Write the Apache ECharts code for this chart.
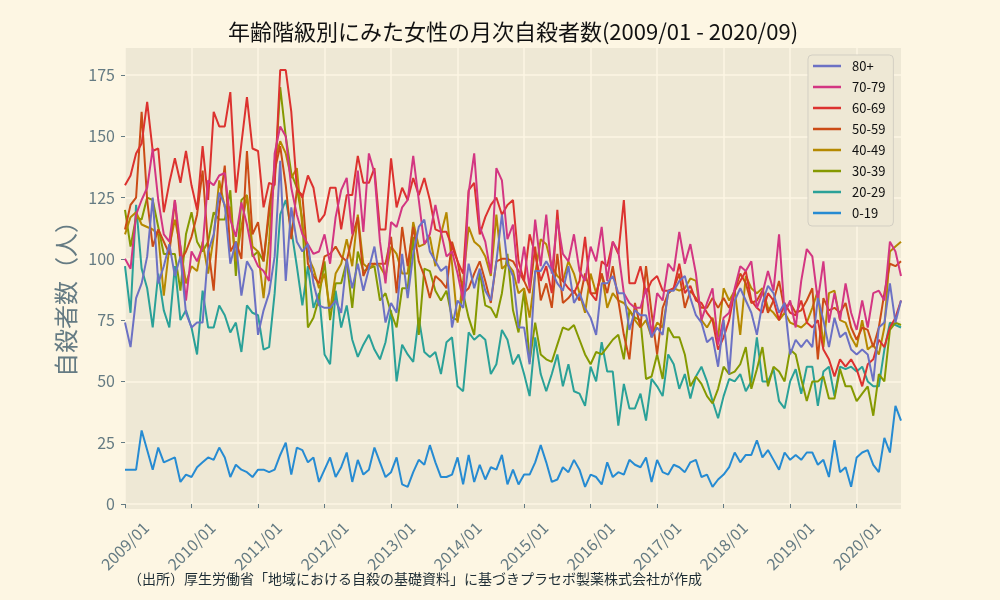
<!DOCTYPE html>
<html><head><meta charset="utf-8">
<script src="https://cdn.jsdelivr.net/npm/echarts@6/dist/echarts.min.js"></script>
<style>html,body{margin:0;padding:0;background:#fdf6e3;} #c{width:1000px;height:600px;}</style>
</head><body><div id="c"></div>
<script>
// ---- data ----
const startYear = 2009;
const monthCount = 141; // 2009/01 .. 2020/09
const yTickValues = [0, 25, 50, 75, 100, 125, 150, 175];
const ageGroups = ['0-19', '20-29', '30-39', '40-49', '50-59', '60-69', '70-79', '80+'];

const s0_19 = [14,14,14,30,22,14,23,17,18,19, 9,12,11,15,17,19,18,23,19,11,
  16,14,13,11,14,14,13,14,20,25, 12,23,22,17,19,9,14,19,11,15,
  21,9,18,12,14,23,17,11,13,19, 8,7,13,18,16,24,17,11,11,12,
  19,8,20,9,16,10,15,14,20,8, 14,8,12,12,17,24,17,9,10,15,
  13,18,14,7,12,11,8,17,11,13, 12,18,16,15,19,9,18,13,12,16,
  15,13,17,18,11,12,7,10,12,15, 21,17,20,20,26,19,22,18,14,21,
  18,20,18,21,21,16,18,11,26,13, 15,7,19,21,22,16,13,27,21,40, 34];
const s20_29 = [97,78,122,96,88,72,94,79,72,97, 75,79,72,61,87,72,72,81,77,70,
  74,62,81,78,77,63,64,86,118,124, 112,97,81,97,80,86,
  61,57,87,72,81,67,60,65,69,63, 59,66,79,50,65,61,58,76,62,60,
  62,53,66,68,48,46,70,67,69,67, 53,57,71,67,
  57,61,53,44,68,53,46,53,61,48, 57,46,45,40,56,50,66,54,54,32,
  49,39,39,45,34,51,48,44,61,57, 47,53,43,52,
  56,50,42,35,44,51,50,53,46,50, 68,50,50,55,42,39,50,55,45,56,
  56,40,54,56,44,56,55,56,54,56, 50,48,48,63,74,73,72];
const s30_39 = [120,105,117,116,125,124,113,102,102,102, 87,110,119,107,103,107,119,116,116,128,
  93,124,126,101,103,99,118,132,170,150, 135,129,116,72,76,84,
  99,75,90,90,99,80,103,95,96,97, 83,86,78,72,88,88,109,69,96,95,
  87,83,87,76,75,86,76,69,95,81, 80,76,86,102,
  79,70,87,58,74,61,59,58,65,72, 71,73,67,61,57,62,61,64,67,69,
  59,79,76,75,51,52,61,51,72,68, 68,61,48,52,
  49,44,41,47,56,53,54,57,64,47, 55,64,48,56,54,50,63,61,51,42,
  50,50,52,43,43,55,48,48,42,45, 48,36,53,50,71,74,73];
const s40_49 = [110,117,119,114,113,112,110,85,105,116, 105,90,97,95,107,94,109,132,121,121,
  99,113,126,105,103,84,107,140,148,143, 133,137,113,101,96,88,
  94,79,94,98,108,97,118,98,96,98, 97,93,105,102,94,94,115,105,106,109,
  97,110,119,98,74,91,113,107,105,101, 93,118,96,98,
  95,86,88,76,94,108,106,97,93,91, 99,94,86,78,94,86,94,80,86,83,
  82,79,75,72,75,68,74,72,86,88, 87,88,92,91,
  75,72,76,68,88,83,87,69,93,88, 86,88,80,78,75,78,74,73,72,74,
  80,87,64,86,87,75,74,68,64,75, 63,65,61,72,103,105,107];
const s50_59 = [112,122,125,160,124,105,112,107,102,124, 99,103,109,118,136,105,87,121,138,103,
  107,100,144,110,115,99,121,136,146,130, 108,128,126,98,93,90,
  101,102,105,101,99,109,117,93,98,98, 98,98,109,86,113,97,113,99,93,84,
  93,91,88,107,99,86,88,94,99,91, 82,99,100,100,
  99,95,91,86,105,83,90,80,102,82, 84,87,83,94,86,86,94,86,97,83,
  69,59,82,72,97,78,61,80,86,88, 94,80,87,84,
  80,80,84,80,84,80,87,94,90,82, 83,87,78,83,91,79,82,78,79,83,
  88,59,84,79,80,78,82,72,67,72, 71,64,72,86,98,97,99];
const s60_69 = [130,134,143,147,164,144,145,119,131,141, 131,144,130,120,146,124,160,154,154,168,
  127,147,166,145,144,121,131,130,177,177, 160,129,125,134,129,115,
  118,129,129,112,126,126,142,131,131,137, 112,112,141,121,129,124,133,126,133,124,
  112,111,111,105,99,94,128,131,110,117, 122,125,118,122,
  124,99,91,110,102,91,97,86,120,91, 88,86,91,109,86,83,99,97,107,102,
  124,90,90,97,86,91,93,87,87,88, 98,86,89,83,
  82,78,75,63,68,75,87,91,95,83, 80,78,86,83,75,82,78,77,83,74,
  72,75,63,59,52,59,56,59,55,48, 57,59,67,64,72,76,83];
const s70_79 = [100,96,118,124,129,145,124,110,107,124, 105,83,103,99,105,132,130,134,135,116,
  109,123,114,102,97,95,91,143,154,150, 129,118,110,106,102,103,
  110,98,117,128,133,110,136,111,143,135, 107,90,115,113,121,124,142,124,106,110,
  122,111,101,103,94,83,127,143,113,107, 94,137,132,108,
  114,90,105,88,116,97,118,94,116,102, 99,110,95,91,105,99,113,91,107,103,
  86,82,80,80,88,69,86,83,98,95, 111,98,106,94,
  75,82,88,65,76,78,88,97,95,99, 80,86,95,87,110,78,83,72,91,104,
  101,83,99,74,86,75,90,78,71,83, 72,86,87,83,107,103,93];
const s80 = [74,64,84,90,101,125,90,97,106,93, 101,78,72,74,74,103,110,127,122,98,
  107,85,99,95,69,79,86,101,140,91, 121,107,103,106,90,81,
  80,80,83,78,100,88,98,87,96,105, 91,74,82,78,102,84,102,113,116,103,
  99,95,97,72,83,80,98,88,96,87, 83,99,118,98,
  93,72,72,57,95,95,99,95,90,87, 97,82,86,80,76,69,90,90,93,86,
  86,71,79,77,77,68,72,69,87,87, 91,93,84,77,
  74,66,68,56,75,53,83,88,83,78, 69,82,89,86,78,82,61,67,64,67,
  64,84,75,64,76,68,70,63,61,63, 61,50,72,74,90,74,83];

const seriesValues = [s0_19, s20_29, s30_39, s40_49, s50_59, s60_69, s70_79, s80];
const colors = ['#268BD2', '#2AA198', '#859900', '#B58900', '#CB4B16', '#DC322F', '#D33682', '#6C71C4'];

const titleText = '年齢階級別にみた女性の月次自殺者数(2009/01 - 2020/09)';
const yAxisTitle = '自殺者数（人）';
const sourceText = '（出所）厚生労働省「地域における自殺の基礎資料」に基づきプラセボ製薬株式会社が作成';

// month category labels
const months = [];
for (let k = 0; k < monthCount; k++) {
  const y = startYear + Math.floor(k / 12);
  const m = (k % 12) + 1;
  months.push(y + '/' + (m < 10 ? '0' + m : '' + m));
}

const FONT = '"Noto Sans CJK JP", "Noto Sans", sans-serif';
const TXT = '#657b83';
const yearTick = (i) => i % 12 === 0;

const chart = echarts.init(document.getElementById('c'), null, {renderer: 'canvas'});
chart.setOption({
  backgroundColor: '#fdf6e3',
  animation: false,
  textStyle: {fontFamily: FONT},
  grid: {left: 125, right: 99, top: 48, bottom: 96, show: true, backgroundColor: '#eee8d5', borderWidth: 0},
  xAxis: {
    type: 'category', data: months, boundaryGap: false, offset: 5,
    axisLine: {show: true, lineStyle: {color: 'rgba(0,0,0,0)'}},
    axisTick: {show: true, length: 4, interval: yearTick, lineStyle: {color: TXT, width: 1}},
    axisLabel: {interval: yearTick, rotate: 45, align: 'center', verticalAlign: 'middle',
      margin: 37, color: TXT, fontSize: 16, fontFamily: FONT},
    splitLine: {show: true, interval: yearTick, lineStyle: {color: '#fdf6e3', width: 1.5}}
  },
  yAxis: {
    type: 'value', min: 0, max: 186, interval: 25,
    axisLine: {show: true, lineStyle: {color: 'rgba(0,0,0,0)'}},
    axisTick: {show: true, length: 4, customValues: yTickValues, lineStyle: {color: TXT, width: 1}},
    axisLabel: {customValues: yTickValues, margin: 10, color: TXT, fontSize: 16, fontFamily: FONT},
    splitLine: {show: true, lineStyle: {color: '#fdf6e3', width: 1.5}}
  },
  legend: {
    orient: 'vertical', left: 808, top: 55,
    data: ageGroups.slice().reverse(),
    icon: 'rect', itemWidth: 28, itemHeight: 2.5, itemGap: 7,
    padding: [4, 8, 6, 5],
    backgroundColor: '#eee8d5', borderColor: '#d3cfc3', borderWidth: 1, borderRadius: 4,
    textStyle: {fontSize: 13, color: '#111', lineHeight: 14, padding: [0, 0, 0, 6], fontFamily: FONT}
  },
  series: ageGroups.map((name, k) => ({
    name: name, type: 'line', data: seriesValues[k],
    showSymbol: false, symbol: 'none', silent: true,
    color: colors[k],
    lineStyle: {color: colors[k], width: 2},
    emphasis: {disabled: true}
  })),
  graphic: [
    {type: 'rect', shape: {x: 125, y: 504, width: 776, height: 5}, style: {fill: '#eee8d5'}, silent: true},
    {type: 'text', x: 513, y: 32, silent: true,
      style: {text: titleText, font: '22px ' + FONT, fill: '#111', align: 'center', verticalAlign: 'middle', textAlign: 'center', textVerticalAlign: 'middle'}},
    {type: 'text', x: 66, y: 293, rotation: Math.PI / 2, silent: true,
      style: {text: yAxisTitle, font: '24px ' + FONT, fill: TXT, align: 'center', verticalAlign: 'middle', textAlign: 'center', textVerticalAlign: 'middle'}},
    {type: 'text', x: 128, y: 579, silent: true,
      style: {text: sourceText, font: '14px ' + FONT, fill: '#1d2d35', align: 'left', verticalAlign: 'middle', textAlign: 'left', textVerticalAlign: 'middle'}}
  ]
});
</script>
</body></html>
